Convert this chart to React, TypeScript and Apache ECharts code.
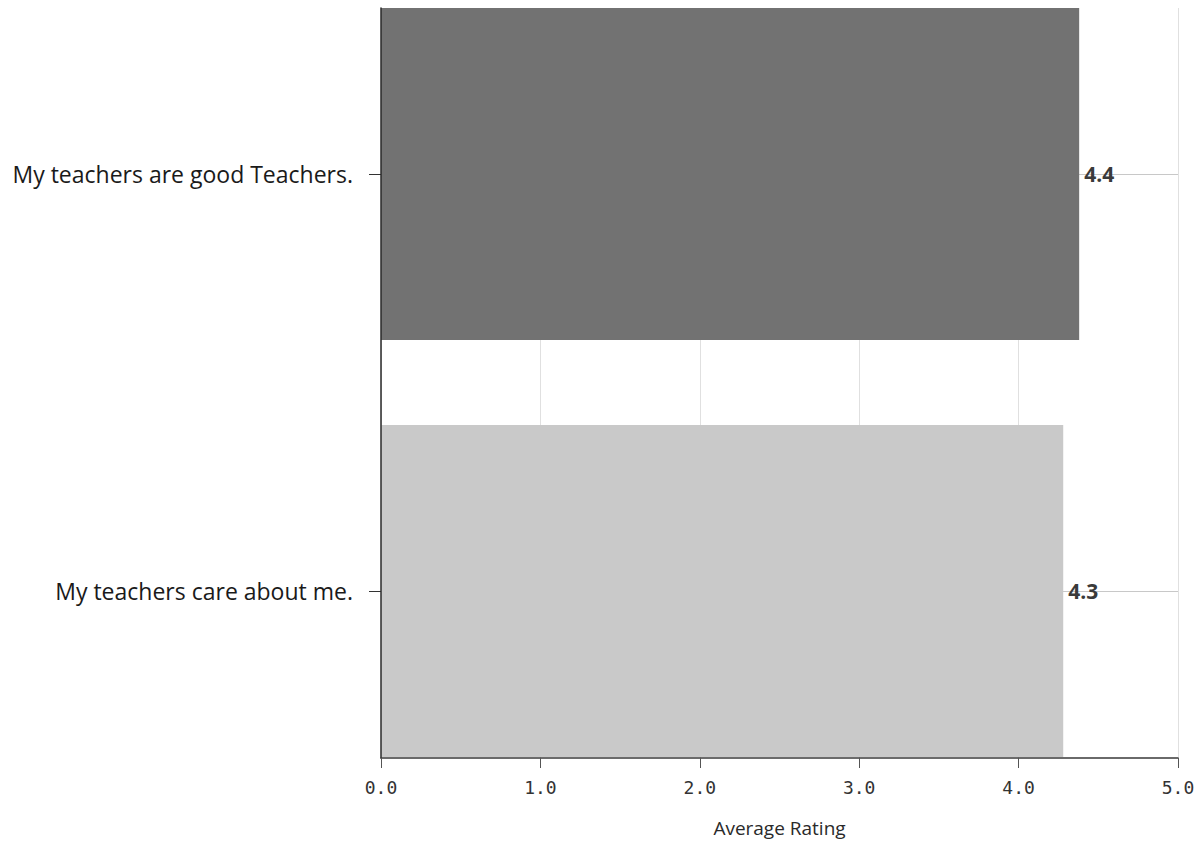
import React, { useEffect, useRef } from "react";
import * as echarts from "echarts";

const categories = ["My teachers care about me.", "My teachers are good Teachers."];
const ratings = [4.28, 4.38];
const xTicks = { min: 0, max: 5, interval: 1 };
const axisTitle = "Average Rating";

const BAR_COLORS = ["#c9c9c9", "#727272"];

export default function App() {
  const ref = useRef<HTMLDivElement>(null);
  useEffect(() => {
    document.body.style.margin = "0";
    const chart = echarts.init(ref.current!, null, { renderer: "svg" });
    const hiddenX = {
      type: "value",
      min: xTicks.min,
      max: xTicks.max,
      interval: xTicks.interval,
    };
    const option: any = {
      animation: false,
      backgroundColor: "#ffffff",
      grid: [
        // grid 0: bars, category labels and centre lines (categories sit on the grid edges)
        { left: 381, right: 26, top: 174, height: 417, containLabel: false, outerBoundsMode: "none" },
        // grid 1: full plot frame (axes, split lines)
        { left: 381, right: 26, top: 8, bottom: 84, containLabel: false, outerBoundsMode: "none" },
      ],
      xAxis: [
        { ...hiddenX, gridIndex: 0, show: false },
        {
          ...hiddenX,
          gridIndex: 1,
          axisLine: { show: false },
          axisTick: { show: false },
          axisLabel: { show: false },
          splitLine: { show: true, lineStyle: { color: "#e0e0e0", width: 1 } },
          z: 0,
        },
        {
          ...hiddenX,
          gridIndex: 1,
          position: "bottom",
          z: 6,
          name: axisTitle,
          nameLocation: "middle",
          nameGap: 60,
          nameTextStyle: { fontFamily: "Open Sans", fontSize: 19, color: "#2a2a2a" },
          axisLine: { show: true, lineStyle: { color: "#3a3a3a", width: 1.5 } },
          axisTick: { show: true, length: 10, lineStyle: { color: "#555" } },
          axisLabel: {
            fontFamily: "DejaVu Sans Mono",
            fontSize: 18,
            color: "#333",
            margin: 20,
            formatter: (v: number) => v.toFixed(1),
          },
          splitLine: { show: false },
        },
      ],
      yAxis: [
        {
          gridIndex: 0,
          type: "category",
          boundaryGap: false,
          data: categories,
          axisLine: { show: false },
          axisTick: { show: true, length: 12, lineStyle: { color: "#333" } },
          axisLabel: {
            fontFamily: "Open Sans",
            fontSize: 23,
            color: "#1a1a1a",
            margin: 28,
          },
          splitLine: { show: false },
        },
        {
          gridIndex: 1,
          type: "value",
          min: 0,
          max: 1,
          z: 6,
          axisLine: { show: true, lineStyle: { color: "#2a2a2a", width: 1.5 } },
          axisTick: { show: false },
          axisLabel: { show: false },
          splitLine: { show: false },
        },
      ],
      series: [
        {
          type: "line",
          xAxisIndex: 0,
          yAxisIndex: 0,
          data: [],
          z: 1,
          silent: true,
          markLine: {
            z: 1,
            silent: true,
            symbol: "none",
            label: { show: false },
            lineStyle: { color: "#c8c8c8", type: "solid", width: 1 },
            data: categories.map((c) => ({ yAxis: c })),
          },
        },
        {
          type: "bar",
          xAxisIndex: 0,
          yAxisIndex: 0,
          z: 3,
          clip: false,
          barCategoryGap: "20.4%",
          data: ratings.map((v, i) => ({ value: v, itemStyle: { color: BAR_COLORS[i] } })),
          label: {
            show: true,
            position: "right",
            distance: 5,
            fontFamily: "Open Sans",
            fontSize: 21,
            fontWeight: "bold",
            color: "#3a3a3a",
            formatter: (p: any) => Number(p.value).toFixed(1),
          },
        },
      ],
    };
    chart.setOption(option);
    return () => chart.dispose();
  }, []);
  return <div ref={ref} style={{ width: 1204, height: 842 }} />;
}
